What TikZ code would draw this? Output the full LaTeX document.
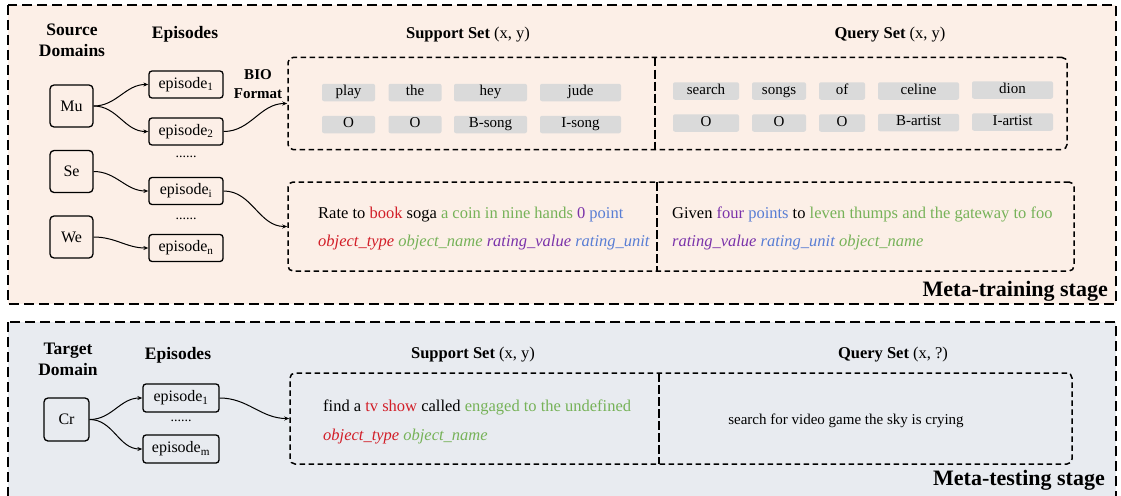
\documentclass[tikz,border=0pt]{standalone}
\usepackage{fontspec}
\setmainfont{Liberation Serif}
\usetikzlibrary{arrows.meta}
\definecolor{peach}{RGB}{252,239,231}
\definecolor{bluegray}{RGB}{232,235,240}
\definecolor{tokgray}{RGB}{218,218,218}
\definecolor{myred}{RGB}{210,30,40}
\definecolor{mygreen}{RGB}{118,178,88}
\definecolor{mypurple}{RGB}{122,50,170}
\definecolor{myblue}{RGB}{88,125,212}
\begin{document}
\begin{tikzpicture}[x=1pt,y=-1pt,
  domainbox/.style={draw,line width=1.3pt,rounded corners=4pt,minimum width=43pt,minimum height=42pt,inner sep=0pt,font=\fontsize{16}{18}\selectfont},
  epibox/.style={draw,line width=1.3pt,rounded corners=3pt,minimum width=74pt,minimum height=27pt,inner sep=0pt,font=\fontsize{16}{18}\selectfont},
  tok/.style={fill=tokgray,rounded corners=2pt,minimum height=17.5pt,text height=10pt,text depth=3.5pt,inner sep=0pt,font=\fontsize{15}{17}\selectfont},
  setbox/.style={draw,line width=1.5pt,dash pattern=on 5.5pt off 3.5pt,rounded corners=5pt,inner sep=0pt},
  divider/.style={line width=1.6pt,dash pattern=on 9pt off 3pt},
  stagebox/.style={draw,line width=1.6pt,dash pattern=on 10pt off 5pt},
  hdr/.style={font=\fontsize{17.5}{21}\selectfont\bfseries,align=center},
  sethdr/.style={font=\fontsize{16.5}{19}\selectfont},
  dots/.style={font=\fontsize{14}{16}\selectfont},
  body/.style={font=\fontsize{16.5}{19}\selectfont,anchor=base west,inner sep=0pt},
  stage/.style={font=\fontsize{22}{26}\selectfont\bfseries,anchor=base east,inner sep=0pt},
  conn/.style={-{Stealth[length=5pt,width=4pt]},line width=1pt}
]
\useasboundingbox (0,0) rectangle (1121,495);
% stage backgrounds
\draw[stagebox,fill=peach] (8,5) rectangle (1116,304);
\draw[stagebox,fill=bluegray] (8,322) rectangle (1116,510);

% ===== Meta-training =====
\node[hdr] (srcdom) at (72,40) {Source\\Domains};
\node[hdr] (eps1) at (185,34) {Episodes};
\node[hdr,font=\fontsize{15}{19}\selectfont\bfseries] (bio) at (258,84) {BIO\\Format};

\node[domainbox] (mu) at (71.5,106) {Mu};
\node[domainbox] (se) at (71.5,171.5) {Se};
\node[domainbox] (we) at (71.5,237) {We};

\node[epibox] (ep1) at (186,84.5) {episode\textsubscript{1}};
\node[epibox] (ep2) at (186,131.5) {episode\textsubscript{2}};
\node[dots] (d1) at (186,157) {......};
\node[epibox] (epi) at (186,191) {episode\textsubscript{i}};
\node[dots] (d2) at (186,219) {......};
\node[epibox] (epn) at (186,248) {episode\textsubscript{n}};

\draw[conn] (mu.east) to[out=0,in=180] (ep1.west);
\draw[conn] (mu.east) to[out=0,in=180] (ep2.west);
\draw[conn] (se.east) to[out=0,in=180] (epi.west);
\draw[conn] (we.east) to[out=0,in=180] (epn.west);

\node[sethdr] (sup1h) at (468,35) {\textbf{Support Set} (x, y)};
\node[sethdr] (qry1h) at (890,35) {\textbf{Query Set} (x, y)};

% first set box
\node[setbox,minimum width=779pt,minimum height=92pt] (set1) at (677.5,103.5) {};
\coordinate (div1t) at (655,57.5);
\coordinate (div1b) at (655,149.5);
\draw[divider] (div1t) -- (div1b);

\node[tok,minimum width=53pt] (t1) at (348.5,92.5) {play};
\node[tok,minimum width=53pt] (t2) at (415,92.5) {the};
\node[tok,minimum width=73pt] (t3) at (490.5,92.5) {hey};
\node[tok,minimum width=81pt] (t4) at (580.5,92.5) {jude};
\node[tok,minimum width=53pt] (l1) at (348.5,124.5) {O};
\node[tok,minimum width=53pt] (l2) at (415,124.5) {O};
\node[tok,minimum width=73pt] (l3) at (490.5,124.5) {B-song};
\node[tok,minimum width=81pt] (l4) at (580.5,124.5) {I-song};

\node[tok,minimum width=66pt] (q1) at (706,91) {search};
\node[tok,minimum width=54pt] (q2) at (779,91) {songs};
\node[tok,minimum width=46pt] (q3) at (842,91) {of};
\node[tok,minimum width=81pt] (q4) at (918.5,91) {celine};
\node[tok,minimum width=81pt] (q5) at (1012.5,90) {dion};
\node[tok,minimum width=66pt] (r1) at (706,123) {O};
\node[tok,minimum width=54pt] (r2) at (779,123) {O};
\node[tok,minimum width=46pt] (r3) at (842,123) {O};
\node[tok,minimum width=81pt] (r4) at (918.5,122.5) {B-artist};
\node[tok,minimum width=81pt] (r5) at (1012.5,122) {I-artist};

\draw[conn] (ep2.east) to[out=0,in=180] (set1.west);

% second set box
\node[setbox,minimum width=786pt,minimum height=89pt] (set2) at (681,226.5) {};
\coordinate (div2t) at (657,182);
\coordinate (div2b) at (657,271);
\draw[divider] (div2t) -- (div2b);

\node[body] (s2a) at (318,218) {Rate to \textcolor{myred}{book} soga \textcolor{mygreen}{a coin in nine hands} \textcolor{mypurple}{0} \textcolor{myblue}{point}};
\node[body] (s2b) at (318,246) {\itshape\textcolor{myred}{object\_type} \textcolor{mygreen}{object\_name} \textcolor{mypurple}{rating\_value} \textcolor{myblue}{rating\_unit}};
\node[body] (q2a) at (672,218) {Given \textcolor{mypurple}{four} \textcolor{myblue}{points} to \textcolor{mygreen}{leven thumps and the gateway to foo}};
\node[body] (q2b) at (672,246) {\itshape\textcolor{mypurple}{rating\_value} \textcolor{myblue}{rating\_unit} \textcolor{mygreen}{object\_name}};

\draw[conn] (epi.east) to[out=0,in=180] (set2.west);

\node[stage] (st1) at (1108,296) {Meta-training stage};

% ===== Meta-testing =====
\node[hdr] (tgtdom) at (68,359) {Target\\Domain};
\node[hdr] (eps2) at (178,355) {Episodes};
\node[domainbox,minimum width=45pt,minimum height=43pt] (cr) at (66.5,419.5) {Cr};
\node[epibox,minimum width=76pt,minimum height=28pt] (te1) at (181,398) {episode\textsubscript{1}};
\node[dots] (d3) at (181,421) {......};
\node[epibox,minimum width=76pt,minimum height=28pt] (tem) at (181,449) {episode\textsubscript{m}};

\draw[conn] (cr.east) to[out=0,in=180] (te1.west);
\draw[conn] (cr.east) to[out=0,in=180] (tem.west);

\node[sethdr] (sup3h) at (473,355) {\textbf{Support Set} (x, y)};
\node[sethdr] (qry3h) at (893,355) {\textbf{Query Set} (x, ?)};

\node[setbox,minimum width=782pt,minimum height=91pt] (set3) at (681,418.5) {};
\coordinate (div3t) at (659,373);
\coordinate (div3b) at (659,464);
\draw[divider] (div3t) -- (div3b);

\node[body] (s3a) at (323,411) {find a \textcolor{myred}{tv show} called \textcolor{mygreen}{engaged to the undefined}};
\node[body] (s3b) at (323,440) {\itshape\textcolor{myred}{object\_type} \textcolor{mygreen}{object\_name}};
\node[body,anchor=base,font=\fontsize{15}{17}\selectfont] (q3a) at (846,424) {search for video game the sky is crying};

\draw[conn] (te1.east) to[out=0,in=180] (set3.west);

\node[stage] (st2) at (1105,485) {Meta-testing stage};
\end{tikzpicture}
\end{document}
